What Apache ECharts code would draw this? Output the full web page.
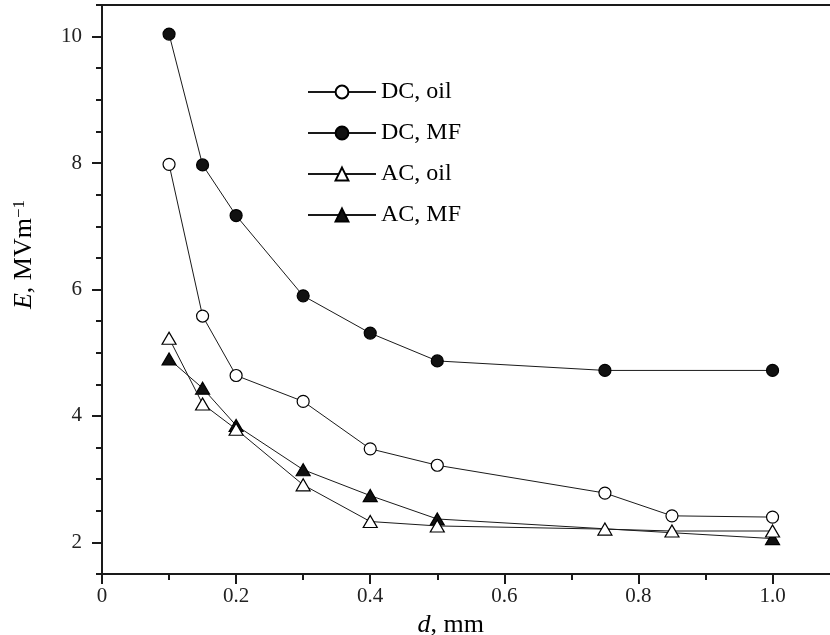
<!DOCTYPE html>
<html>
<head>
<meta charset="utf-8">
<title>Breakdown field vs gap</title>
<script src="https://cdn.jsdelivr.net/npm/echarts@6/dist/echarts.min.js"></script>
<style>
  html, body { margin: 0; padding: 0; background: #fff; }
  #chart { width: 830px; height: 635px; }
</style>
</head>
<body>
<div id="chart"></div>
<script>
// Gap distance d (mm) and breakdown field E (MV/m) for each condition
const dcOilD = [0.1, 0.15, 0.2, 0.3, 0.4, 0.5, 0.75, 0.85, 1.0];
const dcOilE = [7.98, 5.58, 4.64, 4.23, 3.48, 3.22, 2.78, 2.42, 2.40];

const dcMfD = [0.1, 0.15, 0.2, 0.3, 0.4, 0.5, 0.75, 1.0];
const dcMfE = [10.04, 7.97, 7.17, 5.90, 5.31, 4.87, 4.72, 4.72];

const acOilD = [0.1, 0.15, 0.2, 0.3, 0.4, 0.5, 0.75, 0.85, 1.0];
const acOilE = [5.23, 4.19, 3.79, 2.91, 2.33, 2.26, 2.21, 2.18, 2.18];

const acMfD = [0.1, 0.15, 0.2, 0.3, 0.4, 0.5, 1.0];
const acMfE = [4.90, 4.44, 3.85, 3.15, 2.74, 2.37, 2.06];

const seriesNames = ['DC, oil', 'DC, MF', 'AC, oil', 'AC, MF'];

// Tick positions and labels
const xTickValues = [0, 0.2, 0.4, 0.6, 0.8, 1.0];
const xTickLabels = ['0', '0.2', '0.4', '0.6', '0.8', '1.0'];
const yTickValues = [2, 4, 6, 8, 10];
const yTickLabels = ['2', '4', '6', '8', '10'];

const FONT = 'Liberation Serif';
const INK = '#1a1a1a';

function pairs(xs, ys) {
  return xs.map((x, i) => [x, ys[i]]);
}

function lookupLabel(values, labels, v) {
  const i = values.findIndex(t => Math.abs(t - v) < 1e-9);
  return i >= 0 ? labels[i] : '';
}

function makeSeries(name, xs, ys, symbol, size, filled, z) {
  return {
    name: name,
    type: 'line',
    data: pairs(xs, ys),
    symbol: symbol,
    symbolSize: size,
    showAllSymbol: true,
    z: z,
    lineStyle: { color: INK, width: 1 },
    itemStyle: {
      color: filled ? '#111' : '#fff',
      borderColor: '#000',
      borderWidth: 1.2
    },
    emphasis: { disabled: true },
    animation: false
  };
}

const chart = echarts.init(document.getElementById('chart'), null, { renderer: 'canvas' });

chart.setOption({
  backgroundColor: '#fff',
  animation: false,
  grid: {
    left: 102,
    top: 5,
    bottom: 61,
    right: -9.6,
    containLabel: false,
    outerBoundsMode: 'none'
  },
  legend: {
    orient: 'vertical',
    left: 302,
    top: 75,
    itemWidth: 68,
    itemHeight: 16,
    itemGap: 17,
    data: seriesNames,
    textStyle: {
      fontFamily: FONT,
      fontSize: 24,
      color: '#000'
    },
    selectedMode: false
  },
  xAxis: [
    {
      type: 'value',
      min: 0,
      max: 1.1,
      position: 'bottom',
      axisLine: { show: true, lineStyle: { color: INK, width: 2 } },
      axisTick: {
        show: true,
        length: 10,
        customValues: xTickValues,
        lineStyle: { color: INK, width: 2 }
      },
      axisLabel: {
        customValues: xTickValues,
        formatter: v => lookupLabel(xTickValues, xTickLabels, v),
        fontFamily: FONT,
        fontSize: 21,
        color: '#222',
        margin: 12
      },
      splitLine: { show: false },
      name: '{i|d}{r|, mm}',
      nameLocation: 'middle',
      nameGap: 35,
      nameTextStyle: {
        padding: [0, 40, 0, 0],
        rich: {
          i: { fontFamily: FONT, fontStyle: 'italic', fontSize: 26, color: '#000' },
          r: { fontFamily: FONT, fontSize: 26, color: '#000' }
        }
      }
    },
    {
      // minor ticks every 0.1
      type: 'value',
      min: 0,
      max: 1.1,
      interval: 0.1,
      position: 'bottom',
      axisLine: { show: false },
      axisTick: { show: true, length: 6, lineStyle: { color: INK, width: 2 } },
      axisLabel: { show: false },
      splitLine: { show: false }
    },
    {
      // frame line along the top
      type: 'value',
      min: 0,
      max: 1.1,
      position: 'top',
      axisLine: { show: true, lineStyle: { color: INK, width: 2 } },
      axisTick: { show: false },
      axisLabel: { show: false },
      splitLine: { show: false }
    }
  ],
  yAxis: [
    {
      type: 'value',
      min: 1.5,
      max: 10.5,
      position: 'left',
      axisLine: { show: true, lineStyle: { color: INK, width: 2 } },
      axisTick: {
        show: true,
        length: 10,
        customValues: yTickValues,
        lineStyle: { color: INK, width: 2 }
      },
      axisLabel: {
        customValues: yTickValues,
        formatter: v => lookupLabel(yTickValues, yTickLabels, v),
        fontFamily: FONT,
        fontSize: 21,
        color: '#222',
        margin: 20
      },
      splitLine: { show: false },
      name: '{i|E}{r|, MVm}{s|\u22121}',
      nameLocation: 'middle',
      nameGap: 65,
      nameTextStyle: {
        padding: [0, 0, 0, 70],
        rich: {
          i: { fontFamily: FONT, fontStyle: 'italic', fontSize: 26, color: '#000' },
          r: { fontFamily: FONT, fontSize: 26, color: '#000' },
          s: { fontFamily: FONT, fontSize: 17, color: '#000', verticalAlign: 'top' }
        }
      }
    },
    {
      // minor ticks every 0.5
      type: 'value',
      min: 1.5,
      max: 10.5,
      interval: 0.5,
      position: 'left',
      axisLine: { show: false },
      axisTick: { show: true, length: 6, lineStyle: { color: INK, width: 2 } },
      axisLabel: { show: false },
      splitLine: { show: false }
    }
  ],
  series: [
    makeSeries(seriesNames[0], dcOilD, dcOilE, 'circle', 12, false, 2),
    makeSeries(seriesNames[1], dcMfD, dcMfE, 'circle', 12, true, 2),
    makeSeries(seriesNames[3], acMfD, acMfE, 'triangle', [14, 12], true, 2),
    makeSeries(seriesNames[2], acOilD, acOilE, 'triangle', [14, 12], false, 3)
  ]
});
</script>
</body>
</html>
